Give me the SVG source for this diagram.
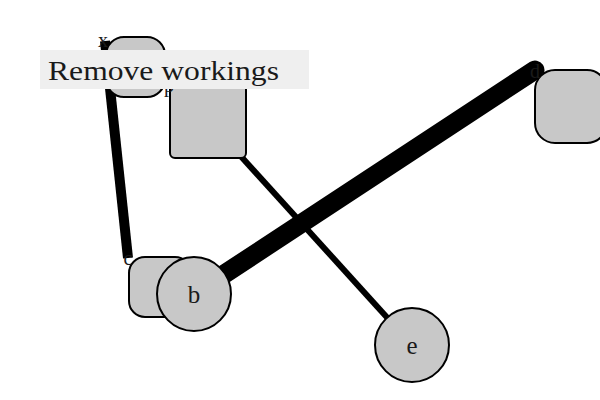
<svg xmlns="http://www.w3.org/2000/svg" width="600" height="400" viewBox="0 0 600 400">
  <style>
    .node { fill: #c8c8c8; stroke: #000; stroke-width: 2; }
    .edge { stroke: #000; fill: none; }
    .lbl { font-family: "Liberation Serif", "DejaVu Serif", serif; fill: #1a1a1a; }
    .corner { font-size: 20px; text-anchor: middle; }
    .center { font-size: 25px; text-anchor: middle; }
  </style>
  <rect width="600" height="400" fill="#fff"/>

  <!-- connectors -->
  <g id="edges">
    <line class="edge" x1="105" y1="41" x2="128" y2="258" stroke-width="10"/>
    <line class="edge" x1="208" y1="120" x2="412" y2="345" stroke-width="6"/>
    <line class="edge" x1="194" y1="294" x2="535" y2="70" stroke-width="19" stroke-linecap="round"/>
  </g>

  <!-- nodes -->
  <g id="node-x">
    <rect class="node" x="106" y="37" width="59" height="60" rx="18"/>
    <text class="lbl corner" x="103" y="47">x</text>
  </g>
  <g id="node-p">
    <rect class="node" x="170" y="80" width="76" height="78" rx="5"/>
    <text class="lbl corner" x="169" y="92">p</text>
  </g>
  <g id="node-d">
    <rect class="node" x="535" y="70" width="72" height="73" rx="20"/>
    <text class="lbl corner" x="535" y="78">d</text>
  </g>
  <g id="node-c">
    <rect class="node" x="129" y="257" width="62" height="60" rx="16"/>
    <text class="lbl corner" x="128" y="265">c</text>
  </g>
  <g id="node-b">
    <circle class="node" cx="194" cy="294" r="37"/>
    <text class="lbl center" x="194" y="303">b</text>
  </g>
  <g id="node-e">
    <circle class="node" cx="412" cy="345" r="37"/>
    <text class="lbl center" x="412" y="354">e</text>
  </g>

  <!-- banner -->
  <g id="banner">
    <rect x="40" y="50" width="269" height="39" fill="#efefef"/>
    <text class="lbl" x="48" y="80" font-size="27" textLength="231" lengthAdjust="spacingAndGlyphs">Remove workings</text>
  </g>
</svg>
